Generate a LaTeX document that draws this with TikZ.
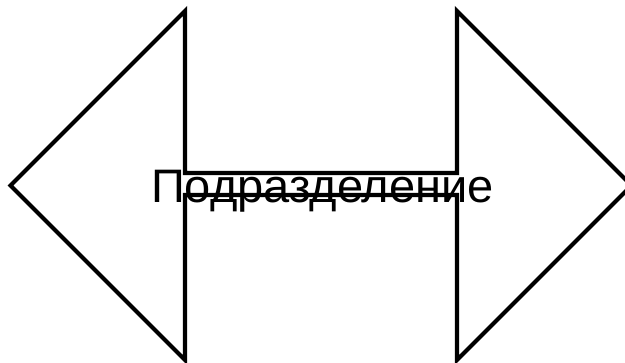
\documentclass[tikz,border=0pt]{standalone}
\usepackage{fontspec}
\setmainfont{Liberation Sans}
\begin{document}
\begin{tikzpicture}[x=1pt,y=-1pt,
  arrowshape/.style={draw=black,line width=4.2pt,line join=miter,fill=none},
  lbl/.style={inner sep=0pt,anchor=base west,font=\fontsize{47}{54}\selectfont}]
\useasboundingbox[fill=white] (0,0) rectangle (625,363);
\draw[arrowshape] (10.5,185.5) -- (185,11) -- (185,173) -- (457,173) -- (457,11)
  -- (631.5,185.5) -- (457,360) -- (457,195) -- (185,195) -- (185,360) -- cycle;
\node[lbl] (label) at (151,203) {Подразделение};
\end{tikzpicture}
\end{document}
